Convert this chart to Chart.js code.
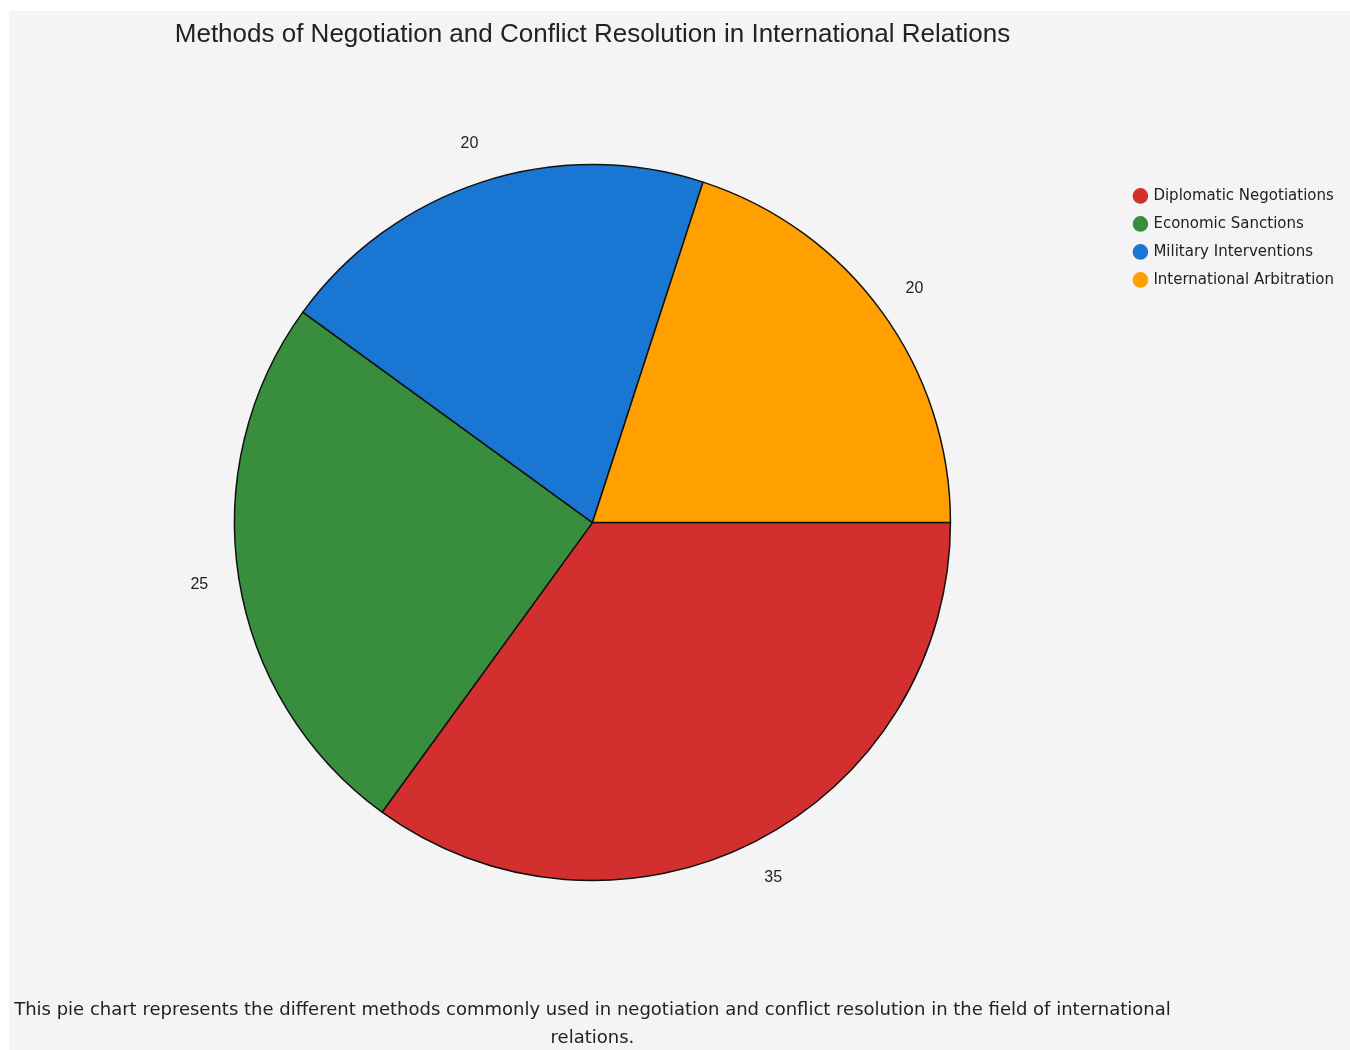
<!DOCTYPE html>
<html>
<head>
<meta charset="utf-8">
<script src="https://cdn.jsdelivr.net/npm/chart.js@4.4.0/dist/chart.umd.min.js"></script>
<style>
  body { margin: 0; background: #ffffff; }
  #wrap { position: absolute; left: 9px; top: 11px; width: 1341px; height: 1039px; background: #f4f4f4; }
</style>
</head>
<body>
<div id="wrap"><canvas id="pieChart"></canvas></div>
<script>
// Pie data
const categories = ['Diplomatic Negotiations', 'Economic Sanctions', 'Military Interventions', 'International Arbitration'];
const values = [35, 25, 20, 20];
const colors = ['#d32f2f', '#388e3c', '#1976d2', '#ffa000'];
const captionLines = [
  'This pie chart represents the different methods commonly used in negotiation and conflict resolution in the field of international',
  'relations.',
];

// labels drawn just outside each slice
const outsideLabels = {
  id: 'outsideLabels',
  afterDatasetsDraw(chart) {
    const ctx = chart.ctx;
    const meta = chart.getDatasetMeta(0);
    ctx.save();
    ctx.font = '16px "Liberation Sans", Arial, sans-serif';
    ctx.fillStyle = '#222';
    ctx.textAlign = 'center';
    ctx.textBaseline = 'middle';
    meta.data.forEach((arc, i) => {
      const mid = (arc.startAngle + arc.endAngle) / 2;
      const r = arc.outerRadius + 40;
      ctx.fillText(String(values[i]), arc.x + Math.cos(mid) * r, arc.y + Math.sin(mid) * r);
    });
    ctx.restore();
  },
};

// caption under the pie, centred on the chart area (not squeezed to its width)
const caption = {
  id: 'caption',
  afterDraw(chart) {
    const ctx = chart.ctx;
    const cx = (chart.chartArea.left + chart.chartArea.right) / 2;
    ctx.save();
    ctx.font = '18px "DejaVu Sans", sans-serif';
    ctx.fillStyle = '#222';
    ctx.textAlign = 'center';
    ctx.textBaseline = 'middle';
    captionLines.forEach((line, i) => {
      ctx.fillText(line, cx, chart.height - 40 + i * 28);
    });
    ctx.restore();
  },
};

const pieChart = document.getElementById('pieChart');

new Chart(pieChart, {
  type: 'pie',
  data: {
    labels: categories,
    datasets: [
      {
        data: values,
        backgroundColor: colors,
        borderColor: '#111',
        borderWidth: 1.5,
        radius: 358,
      },
    ],
  },
  options: {
    responsive: true,
    maintainAspectRatio: false,
    animation: false,
    rotation: 90,
    layout: {
      padding: { top: 0, bottom: 65, left: 54, right: 6 },
    },
    plugins: {
      tooltip: { enabled: false },
      title: {
        display: true,
        fullSize: false,
        text: 'Methods of Negotiation and Conflict Resolution in International Relations',
        color: '#222',
        font: { family: '"Liberation Sans", Arial, sans-serif', size: 26, weight: 'normal' },
        padding: { top: 8, bottom: 10 },
      },
      legend: {
        position: 'right',
        align: 'start',
        title: {
          display: true,
          text: ' ',
          padding: { top: 150, bottom: 0 },
        },
        labels: {
          usePointStyle: true,
          pointStyle: 'circle',
          boxWidth: 11,
          boxHeight: 11,
          padding: 13,
          color: '#222',
          font: { family: '"DejaVu Sans", sans-serif', size: 15 },
          generateLabels(chart) {
            const items = Chart.overrides.pie.plugins.legend.labels.generateLabels(chart);
            return items.map((item) => ({ ...item, strokeStyle: item.fillStyle, lineWidth: 0 }));
          },
        },
      },
    },
  },
  plugins: [outsideLabels, caption],
});
</script>
</body>
</html>
